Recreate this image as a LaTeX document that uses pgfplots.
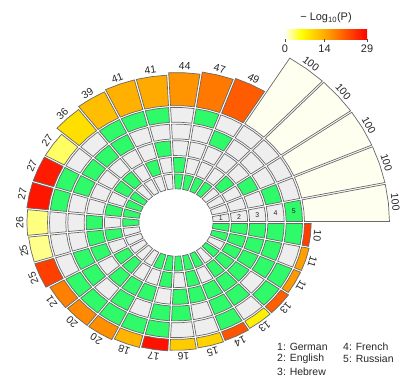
\documentclass[border=0pt]{standalone}
\usepackage{fontspec}
\setmainfont{Liberation Sans}
\usepackage{pgfplots}
\usepackage{pgfplotstable}
\pgfplotsset{compat=1.18}

\definecolor{ongreen}{RGB}{46,250,106}
\definecolor{offgrey}{RGB}{238,238,238}
\definecolor{edgegrey}{RGB}{105,105,105}

% one row per sector: value shown outside, -log10(P), membership of rings 1..5
\pgfplotstableread{
k v p r1 r2 r3 r4 r5
0 100 0 0 0 0 0 1
1 100 0 0 0 0 1 0
2 100 0 0 0 1 0 0
3 100 0 0 1 0 0 0
4 100 0 1 0 0 0 0
5 49 21 1 0 0 1 0
6 47 18.3 1 0 0 0 1
7 44 16 1 1 0 0 0
8 41 14 0 0 1 0 1
9 41 13.4 0 1 0 0 1
10 39 12 0 0 0 1 1
11 36 8.8 0 1 0 1 0
12 27 3.4 1 1 0 1 0
13 27 26.7 1 0 0 1 1
14 27 27 1 1 0 0 1
15 26 2.7 1 0 1 0 0
16 25 2.4 0 1 1 0 0
17 25 23.4 0 0 1 1 0
18 21 17.8 0 1 0 1 1
19 20 16.9 0 1 1 0 1
20 20 16.4 0 0 1 1 1
21 18 13 1 0 1 0 1
22 17 27.5 1 1 0 1 1
23 16 10.7 1 0 1 1 0
24 15 10 1 1 1 0 0
25 14 21.5 1 0 1 1 1
26 13 7.3 0 1 1 1 0
27 13 20.6 1 1 1 0 1
28 11 15.5 0 1 1 1 1
29 11 15 1 1 1 1 0
30 10 23.4 1 1 1 1 1
}\cells

\def\secang{11.6129}   % 360/31
\def\rzero{36}         % inner edge of ring 1
\def\rw{18.3}          % ring width
\def\rbar{127.5}       % inner edge of the outer bars
\def\bscale{0.87}      % bar length per unit
\def\hg{1.0}           % half of the white gap between cells

\pgfplotsset{cellstyle/.style={mark=none, draw=edgegrey, line width=0.7bp, line join=miter}}

% annular cell of sector #1 between radii #2 and #3, filled with #4
\newcommand\cellpoly[4]{%
  \pgfmathsetmacro\thm{(#1+0.5)*\secang}%
  \pgfmathsetmacro\ri{#2+\hg}%
  \pgfmathsetmacro\ro{#3-\hg}%
  \pgfmathsetmacro\dai{\hg/\ri*57.29578}%
  \pgfmathsetmacro\dao{\hg/\ro*57.29578}%
  \pgfmathsetmacro\tsi{#1*\secang+\dai}%
  \pgfmathsetmacro\tei{(#1+1)*\secang-\dai}%
  \pgfmathsetmacro\tso{#1*\secang+\dao}%
  \pgfmathsetmacro\teo{(#1+1)*\secang-\dao}%
  \edef\next{\noexpand\addplot[data cs=polar, cellstyle, fill=#4] coordinates
    {(\tsi,\ri) (\thm,\ri) (\tei,\ri) (\teo,\ro) (\thm,\ro) (\tso,\ro)} -- cycle;}%
  \next
}

\newcommand\ringcell[2]{%
  \pgfplotstablegetelem{#1}{r#2}\of\cells
  \ifnum\pgfplotsretval=1 \def\fc{ongreen}\else\def\fc{offgrey}\fi
  \pgfmathsetmacro\rin{\rzero+(#2-1)*\rw}%
  \pgfmathsetmacro\rout{\rzero+#2*\rw}%
  \cellpoly{#1}{\rin}{\rout}{\fc}%
}

% outer bar: length from the value, colour from -log10(P) on the same stops as the colormap
\newcommand\barcell[1]{%
  \pgfplotstablegetelem{#1}{v}\of\cells \let\bv\pgfplotsretval
  \pgfplotstablegetelem{#1}{p}\of\cells \let\bp\pgfplotsretval
  \pgfmathsetmacro\bt{\bp/29}%
  \pgfmathsetmacro\barG{\bt<=0.2 ? 255 : (\bt<=0.5 ? 255-(\bt-0.2)/0.3*90 : 165-(\bt-0.5)/0.5*165)}%
  \pgfmathsetmacro\barB{\bt<=0.2 ? 240-\bt/0.2*240 : 0}%
  \pgfmathtruncatemacro\Gi{\barG}%
  \pgfmathtruncatemacro\Bi{\barB}%
  \pgfmathsetmacro\rend{\rbar+\bscale*\bv}%
  \cellpoly{#1}{\rbar}{\rend}{{rgb,255:red,255;green,\Gi;blue,\Bi}}%
}

\begin{document}
\begin{tikzpicture}
\begin{axis}[
  name=ax,
  x=1bp, y=0.91bp,
  xmin=-176, xmax=224, ymin=-175.27, ymax=244.51,
  hide axis, clip=false,
  colormap={pval}{rgb255(0cm)=(255,255,240); rgb255(2cm)=(255,255,0); rgb255(5cm)=(255,165,0); rgb255(10cm)=(255,0,0)},
  point meta min=0, point meta max=29,
  colorbar horizontal,
  colorbar style={
    at={(285bp,361.3bp)}, anchor=north west,
    scale only axis, width=82bp, height=10bp,
    axis line style={draw=none},
    xtick={0,14,29}, xtick pos=left, tick align=outside,
    major tick length=3bp,
    xtick style={draw=black!70, line width=0.5bp},
    /pgf/number format/assume math mode=true,
    xticklabel style={font=\fontsize{11}{12}\selectfont, text=black!85, yshift=1bp},
    title={− Log\textsubscript{10}(P)},
    title style={font=\fontsize{11}{12}\selectfont, text=black!85, yshift=-3bp},
  },
]
\pgfplotsinvokeforeach{0,...,30}{%
  \ringcell{#1}{1}\ringcell{#1}{2}\ringcell{#1}{3}\ringcell{#1}{4}\ringcell{#1}{5}%
  \barcell{#1}%
}

% values outside the bars
\addplot[data cs=polar, only marks, mark=*, mark size=0pt, mark options={draw=none, fill=none},
  point meta=explicit symbolic,
  visualization depends on={\thisrow{k}*11.6129-84.1935 \as \rot},
  nodes near coords, nodes near coords align=center,
  every node near coord/.append style={rotate=\rot, anchor=center, inner sep=0pt,
    font=\fontsize{10.5}{12}\selectfont, text=black!85}]
  table[x expr=\thisrow{k}*11.6129+5.8065, y expr=127.5+0.87*\thisrow{v}+6, meta=v] \cells;

% ring numbers in the first sector
\addplot[data cs=polar, only marks, mark=*, mark size=0pt, mark options={draw=none, fill=none},
  point meta=explicit symbolic,
  nodes near coords, nodes near coords align=center,
  every node near coord/.append style={anchor=center, inner sep=0pt,
    font=\fontsize{7}{8}\selectfont, text=black!85}]
  coordinates {(5.8065,45.15)[1] (5.8065,63.45)[2] (5.8065,81.75)[3] (5.8065,100.05)[4] (5.8065,118.35)[5]};

% key to the rings
\begin{scope}[every node/.style={anchor=west, inner sep=0pt, font=\fontsize{10.5}{12}\selectfont, text=black!85}]
\node at (axis cs:101,-136.5) {1: German};
\node at (axis cs:101,-150.2) {2: English};
\node at (axis cs:101,-163.9) {3: Hebrew};
\node at (axis cs:167,-136.5) {4: French};
\node at (axis cs:167,-150.2) {5: Russian};
\end{scope}
\end{axis}
\pgfresetboundingbox
\path (ax.south west) rectangle (ax.north east);
\end{tikzpicture}
\end{document}
